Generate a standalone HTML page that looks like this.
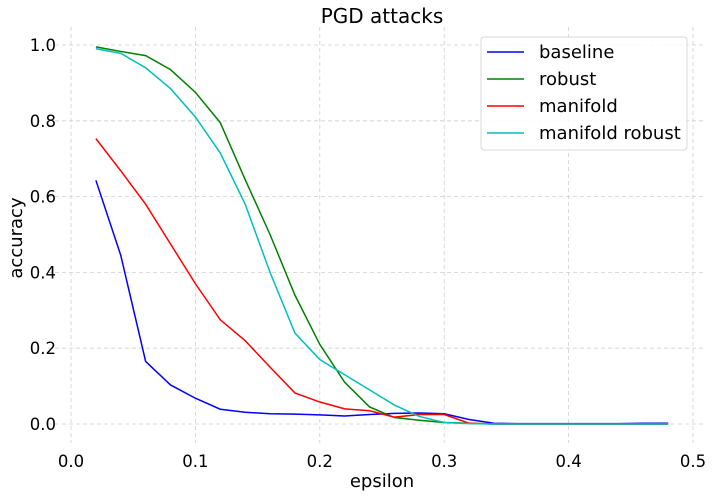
<!DOCTYPE html>
<html><head><meta charset="utf-8"><style>
body{margin:0;background:#fff;}
svg text{font-family:"DejaVu Sans","Liberation Sans",sans-serif;fill:#000;}
</style></head><body>
<svg id="chart" width="712" height="496" viewBox="0 0 712 496">
<text x="382" y="23" font-size="20" text-anchor="middle">PGD attacks</text>
<g id="grid"></g>
<g id="ticks"></g>
<g id="series"></g>
<text x="382" y="487" font-size="18" text-anchor="middle">epsilon</text>
<text x="22" y="238" font-size="18" text-anchor="middle" transform="rotate(-90 22 238)">accuracy</text>
<g id="legend"></g>
</svg>
<script>
const epsilons=[0.02,0.04,0.06,0.08,0.10,0.12,0.14,0.16,0.18,0.20,0.22,0.24,0.26,0.28,0.30,0.32,0.34,0.36,0.38,0.40,0.42,0.44,0.46,0.48];
const baseline=[0.643,0.445,0.165,0.103,0.068,0.039,0.031,0.027,0.026,0.024,0.021,0.025,0.028,0.029,0.027,0.012,0.002,0.001,0.001,0.001,0.001,0.001,0.002,0.002];
const robust=[0.995,0.983,0.972,0.935,0.875,0.795,0.645,0.50,0.34,0.21,0.11,0.045,0.017,0.010,0.004,0.002,0,0,0,0,0,0,0,0];
const manifold=[0.753,0.668,0.58,0.475,0.37,0.275,0.22,0.15,0.082,0.058,0.040,0.035,0.018,0.025,0.025,0.002,0,0,0,0,0,0,0,0];
const manifoldRobust=[0.99,0.978,0.94,0.885,0.81,0.715,0.58,0.40,0.24,0.17,0.13,0.09,0.05,0.02,0.004,0.001,0,0,0,0,0,0,0,0];
const xTicks=[0,0.1,0.2,0.3,0.4,0.5];
const xTickLabels=["0.0","0.1","0.2","0.3","0.4","0.5"];
const yTicks=[0,0.2,0.4,0.6,0.8,1.0];
const yTickLabels=["0.0","0.2","0.4","0.6","0.8","1.0"];
const seriesNames=["baseline","robust","manifold","manifold robust"];
const seriesColors=["#0000ff","#008000","#ff0000","#00bfbf"];
const seriesData=[baseline,robust,manifold,manifoldRobust];

const NS="http://www.w3.org/2000/svg";
const X=v=>71+v*1244;
const Y=v=>424-v*379;
function mk(tag,attrs,parent){const e=document.createElementNS(NS,tag);for(const k in attrs)e.setAttribute(k,attrs[k]);parent.appendChild(e);return e;}
const grid=document.getElementById('grid'),ticks=document.getElementById('ticks'),series=document.getElementById('series'),legend=document.getElementById('legend');
xTicks.forEach((t,i)=>{
  const l=mk('line',{x1:X(t),x2:X(t),y1:27,y2:443,stroke:'#d0d0d0','stroke-dasharray':'4,3','stroke-width':0.8},grid);
  
  
  const tx=mk('text',{x:X(t),y:467,'font-size':16.5,'text-anchor':'middle'},ticks);
  tx.textContent=xTickLabels[i];
  
  
});
yTicks.forEach((t,i)=>{
  const l=mk('line',{x1:48,x2:703,y1:Y(t),y2:Y(t),stroke:'#d0d0d0','stroke-dasharray':'4,3','stroke-width':0.8},grid);
  
  
  const tx=mk('text',{x:56,y:Y(t)+6,'font-size':16.5,'text-anchor':'end'},ticks);
  tx.textContent=yTickLabels[i];
  
  
});
seriesData.forEach((d,si)=>{
  const pts=d.map((v,i)=>X(epsilons[i])+','+Y(v)).join(' ');
  const p=mk('polyline',{points:pts,fill:'none',stroke:seriesColors[si],'stroke-width':1.5},series);
  
  
});
const box=mk('rect',{x:481,y:37,width:206,height:113,rx:3,fill:'#fff','fill-opacity':0.85,stroke:'#d8d8d8'},legend);


seriesNames.forEach((n,i)=>{
  const y=52+i*27;
  const l=mk('line',{x1:487,x2:524,y1:y,y2:y,stroke:seriesColors[i],'stroke-width':1.5},legend);
  
  
  const t=mk('text',{x:539,y:y+6,'font-size':18},legend);
  t.textContent=n;
  
  
});
</script>
</body></html>
